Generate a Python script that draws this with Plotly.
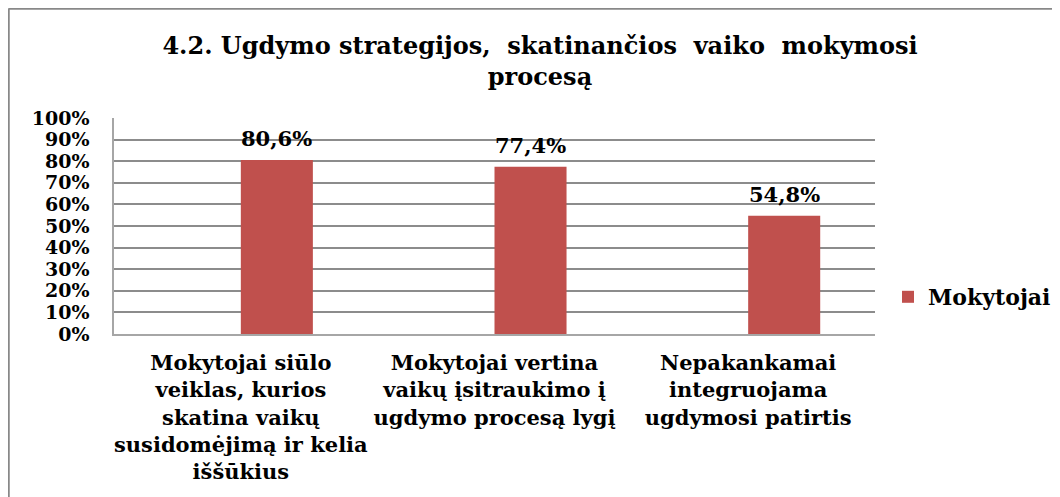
import plotly.graph_objects as go

categories = [
    "Mokytojai siūlo<br>veiklas, kurios<br>skatina vaikų<br>susidomėjimą ir kelia<br>iššūkius",
    "Mokytojai vertina<br>vaikų įsitraukimo į<br>ugdymo procesą lygį",
    "Nepakankamai<br>integruojama<br>ugdymosi patirtis",
]
values = [0.806, 0.774, 0.548]
series_name = "Mokytojai"
title_text = "4.2. Ugdymo strategijos,  skatinančios  vaiko  mokymosi<br>procesą"

FONT = "DejaVu Serif"
BAR_COLOR = "#C0504D"
BAR_WIDTH = 0.284

# page offset caused by the default 8px body margin
OFF = 8
W, H = 1060, 497
# desired plot area in page pixels
PL, PR, PT, PB = 114, 875, 118, 334
L, T = PL - OFF, PT - OFF
R = W - (PR - OFF)
B = H - (PB - OFF)
pw, ph = PR - PL, PB - PT

fig = go.Figure()
fig.add_trace(go.Bar(
    x=categories,
    y=values,
    name=series_name,
    marker=dict(color=BAR_COLOR, line=dict(width=0)),
    offset=0,
    width=BAR_WIDTH,
    showlegend=True,
))

annotations = []
for i, v in enumerate(values):
    annotations.append(dict(
        x=i + BAR_WIDTH / 2, y=v, xref="x", yref="y",
        text=f"{v * 100:.1f}%".replace(".", ","),
        showarrow=False, yanchor="bottom", yshift=7,
        font=dict(family=FONT, size=21, color="black", weight="bold"),
    ))

fig.update_layout(
    width=W, height=H,
    margin=dict(l=L, r=R, t=T, b=B, autoexpand=False),
    paper_bgcolor="white",
    plot_bgcolor="white",
    separators=",.",
    font=dict(family=FONT, color="black"),
    title=dict(
        text=title_text,
        x=(540 - OFF) / W, xanchor="center", xref="container",
        y=1 - 46 / H, yanchor="top", yref="container",
        font=dict(family=FONT, size=24, color="black", weight="bold"),
    ),
    annotations=annotations,
    showlegend=True,
    legend=dict(
        x=(888 - PL) / pw, xanchor="left",
        y=(PB - 297) / ph, yanchor="middle",
        font=dict(family=FONT, size=22, color="black", weight="bold"),
        bgcolor="rgba(0,0,0,0)",
    ),
    xaxis=dict(
        type="category",
        showgrid=False,
        showline=True, linecolor="#A6A6A6", linewidth=1.5,
        ticks="", ticklabelstandoff=9,
        tickfont=dict(family=FONT, size=21, color="black", weight="bold"),
        range=[-0.5, 2.5],
    ),
    yaxis=dict(
        range=[0, 1],
        dtick=0.1,
        tickformat=".0%",
        showgrid=True, gridcolor="#8C8C8C", gridwidth=1.5,
        showline=True, linecolor="#A6A6A6", linewidth=1.5,
        zeroline=False,
        ticks="", ticklabelstandoff=19,
        tickfont=dict(family=FONT, size=19, color="black", weight="bold"),
    ),
    shapes=[
        dict(type="line", xref="paper", yref="paper",
             x0=(OFF + 0.5 - PL) / pw, x1=(W + 20 - PL) / pw,
             y0=(PB - OFF - 0.5) / ph, y1=(PB - OFF - 0.5) / ph,
             line=dict(color="#888888", width=2.5)),
        dict(type="line", xref="paper", yref="paper",
             x0=(OFF + 0.5 - PL) / pw, x1=(OFF + 0.5 - PL) / pw,
             y0=(PB - OFF - 0.5) / ph, y1=(PB - H - 20) / ph,
             line=dict(color="#888888", width=2.5)),
    ],
)

fig.write_html("out.html")
